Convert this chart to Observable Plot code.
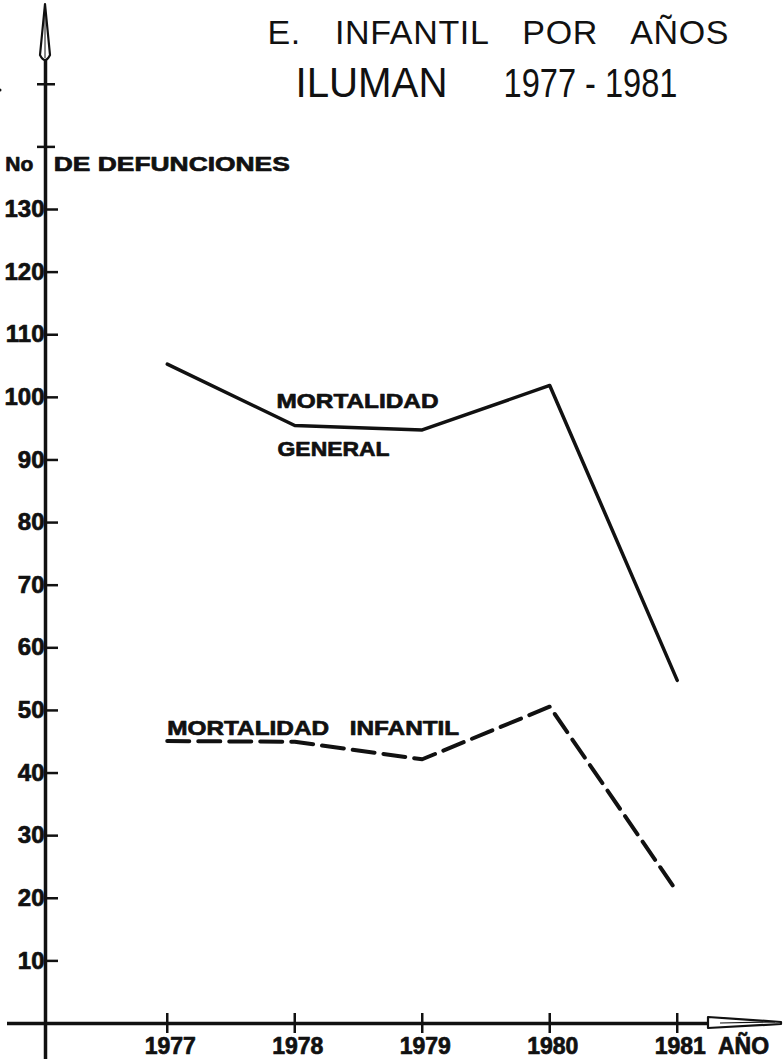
<!DOCTYPE html>
<html>
<head>
<meta charset="utf-8">
<script src="https://cdn.jsdelivr.net/npm/d3@7"></script>
<script src="https://cdn.jsdelivr.net/npm/@observablehq/plot@0.6"></script>
<style>
  html, body { margin: 0; padding: 0; background: #fff; }
  #chart svg { display: block; }
</style>
</head>
<body>
<div id="chart"></div>
<script>
// ---- data ----
const years = [1977, 1978, 1979, 1980, 1981];
const generalDeaths = [105.3, 95.5, 94.8, 101.9, 54.8];   // MORTALIDAD GENERAL
const infantDeaths  = [45.1, 45.0, 42.2, 50.6, 21.0];     // MORTALIDAD INFANTIL
const yTickValues = [10, 20, 30, 40, 50, 60, 70, 80, 90, 100, 110, 120, 130];
const yExtraTicks = [140, 150];
const titleLine1 = "E. INFANTIL POR AÑOS";
const titlePlace = "ILUMAN";
const titleYears = "1977 - 1981";
const yLabelNo = "No";
const yLabelText = "DE DEFUNCIONES";
const xLabelText = "AÑO";
const generalLabel = ["MORTALIDAD", "GENERAL"];
const infantLabel = "MORTALIDAD INFANTIL";

// ---- layout ----
const W = 783, H = 1059;
const mL = 45, mR = 3, mT = 209, mB = 36;
const xDomain = [1976.045, 1981.81];
const X0 = xDomain[0];
const ink = "#111";
const font = "Liberation Sans, Arial, sans-serif";
const bold = {fontWeight: "bold", fill: ink, stroke: ink, strokeWidth: 0.7, fontFamily: font};

const general = years.map((y, i) => ({year: y, v: generalDeaths[i]}));
const infant = years.map((y, i) => ({year: y, v: infantDeaths[i]}));

const chart = Plot.plot({
  width: W, height: H,
  marginLeft: mL, marginRight: mR, marginTop: mT, marginBottom: mB,
  style: {background: "#fff", color: ink, fontFamily: font, overflow: "visible"},
  x: {domain: xDomain, axis: null},
  y: {domain: [0, 130], axis: null},
  marks: [
    // axes
    Plot.ruleX([X0], {insetTop: -(mT - 60), insetBottom: -mB, stroke: ink, strokeWidth: 3.5}),
    Plot.ruleY([0], {insetLeft: -38, insetRight: (W - mR) - 708, stroke: ink, strokeWidth: 3.5}),
    Plot.tickY(yTickValues, {y: d => d, insetRight: W - mL - mR - 13, stroke: ink, strokeWidth: 2.5}),
    Plot.tickY(yExtraTicks, {y: d => d, insetLeft: -8, insetRight: W - mL - mR - 10, stroke: ink, strokeWidth: 2.5}),
    Plot.tickX(years, {x: d => d, insetTop: (H - mT - mB) - 10, insetBottom: -10, stroke: ink, strokeWidth: 2.5}),
    // tick labels
    Plot.text(yTickValues, {x: X0, y: d => d, text: d => String(d), textAnchor: "end", dx: -1, fontSize: 24, ...bold}),
    Plot.text(years, {x: d => d, y: 0, text: d => String(d), dy: 23, dx: 3, fontSize: 23, ...bold}),
    Plot.text([xLabelText], {x: 1981.52, y: 0, text: d => d, dy: 23, fontSize: 23, ...bold}),
    // axis title
    Plot.text([yLabelNo], {x: 1975.73, y: 137.3, text: d => d, textAnchor: "start", fontSize: 21, ...bold}),
    Plot.text([yLabelText], {x: 1976.11, y: 137.3, text: d => d, textAnchor: "start", fontSize: 21, ...bold}),
    // data lines
    Plot.line(general, {x: "year", y: "v", stroke: ink, strokeWidth: 3.5, strokeLinecap: "round", strokeLinejoin: "round"}),
    Plot.line(infant, {x: "year", y: "v", stroke: ink, strokeWidth: 4, strokeDasharray: "22,9", strokeLinejoin: "round"}),
    // series labels
    Plot.text([generalLabel[0]], {x: 1977.857, y: 99.3, text: d => d, textAnchor: "start", fontSize: 21, ...bold}),
    Plot.text([generalLabel[1]], {x: 1977.865, y: 91.7, text: d => d, textAnchor: "start", fontSize: 21, ...bold}),
    Plot.text([infantLabel], {x: 1977.0, y: 47.2, text: d => d, textAnchor: "start", fontSize: 21, ...bold}),
    // title
    Plot.text([titleLine1], {frameAnchor: "top-left", dx: 267 - mL, dy: 19 - mT, text: d => d, textAnchor: "start", fontSize: 34, fill: ink}),
    Plot.text([titlePlace], {frameAnchor: "top-left", dx: 295 - mL, dy: 67 - mT, text: d => d, textAnchor: "start", fontSize: 42, fill: ink}),
    Plot.text([titleYears], {frameAnchor: "top-left", dx: 503 - mL, dy: 68 - mT, text: d => d, textAnchor: "start", fontSize: 40, fill: ink})
  ]
});

// text fitting to the hand lettering widths
const fits = {
  [titlePlace]: [152, "spacingAndGlyphs"],
  [titleYears]: [174, "spacingAndGlyphs"],
  [titleLine1]: [461, "spacing"],
  [generalLabel[0]]: [162, "spacingAndGlyphs"],
  [generalLabel[1]]: [112, "spacingAndGlyphs"],
  [infantLabel]: [292, "spacingAndGlyphs"],
  [yLabelText]: [236, "spacingAndGlyphs"]
};
const svg = d3.select(chart);
svg.selectAll("text").each(function () {
  const t = this.textContent;
  if (fits[t]) {
    this.setAttribute("textLength", fits[t][0]);
    this.setAttribute("lengthAdjust", fits[t][1]);
  }
  if (t === titleLine1) this.style.wordSpacing = "24px";
  if (t === infantLabel) this.style.wordSpacing = "12px";
});

// arrows and underline, positioned through the plot scales
const sx = chart.scale("x").apply, sy = chart.scale("y").apply;
const ax = sx(X0), ay = sy(0);
svg.append("path")
  .attr("d", `M${ax},4 L${ax + 5},55 Q${ax},65 ${ax - 5},55 Z`)
  .attr("fill", "#fff").attr("stroke", ink).attr("stroke-width", 2.2).attr("stroke-linejoin", "round");
svg.append("line").attr("x1", ax).attr("x2", ax).attr("y1", 12).attr("y2", 58).attr("stroke", ink).attr("stroke-width", 1);
svg.append("path")
  .attr("d", `M708,${ay - 6} L781,${ay - 1} L781,${ay + 1} L708,${ay + 5} Z`)
  .attr("fill", "#fff").attr("stroke", ink).attr("stroke-width", 2.2).attr("stroke-linejoin", "round");
svg.append("line").attr("x1", 720).attr("x2", 775).attr("y1", ay).attr("y2", ay - 1).attr("stroke", ink).attr("stroke-width", 1.2);
// underline of the place name
const placeNode = svg.selectAll("text").filter(function () { return this.textContent === titlePlace; }).node();
if (placeNode) {
  const bb = placeNode.getBBox();
  svg.append("line").attr("x1", bb.x).attr("x2", bb.x + bb.width).attr("y1", 90).attr("y2", 90)
    .attr("stroke", ink).attr("stroke-width", 3).attr("stroke-linecap", "round");
}

document.getElementById("chart").appendChild(chart);
</script>
</body>
</html>
